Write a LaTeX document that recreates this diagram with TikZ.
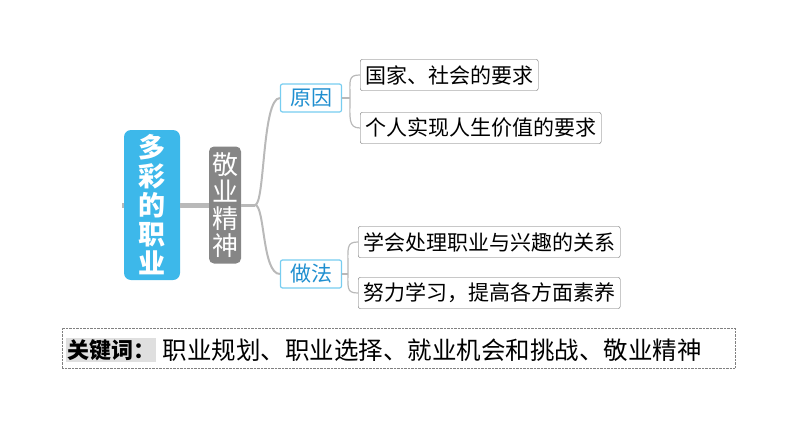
\documentclass[tikz,border=0pt]{standalone}
\usepackage{fontspec}
\setmainfont{Noto Sans CJK SC}
\definecolor{skyb}{HTML}{3DB8EA}
\definecolor{lblue}{HTML}{1F8FD0}
\begin{document}
\begin{tikzpicture}[x=1pt,y=-1pt,
  conn/.style={draw=gray!55,line width=2pt},
  leaf/.style={draw=gray!80!black,rounded corners=2pt,fill=white,anchor=west,minimum height=31pt,inner xsep=5pt,inner ysep=1pt,font=\fontsize{21}{22}\selectfont},
  mid/.style={draw=skyb!70,line width=1.2pt,rounded corners=2pt,fill=white,text=lblue,minimum width=61pt,minimum height=28pt,inner sep=1pt,font=\fontsize{21}{22}\selectfont}]
\useasboundingbox (0,0) rectangle (794,447);
\coordinate (st) at (122,205);
\node[fill=skyb,rounded corners=7pt,text=white,minimum width=56pt,minimum height=150pt,align=center,font=\bfseries\fontsize{27}{29}\selectfont] (root) at (152,205) {多\\彩\\的\\职\\业};
\node[fill=gray!95,rounded corners=5pt,text=white,minimum width=32pt,minimum height=117pt,inner xsep=1pt,align=center,font=\fontsize{26}{27}\selectfont] (jy) at (225,205) {敬\\业\\精\\神};
\node[mid] (yy) at (311,98) {原因};
\node[mid] (zf) at (311,274) {做法};
\node[leaf] (a1) at (360,75) {国家、社会的要求};
\node[leaf] (a2) at (360,128) {个人实现人生价值的要求};
\node[leaf] (b1) at (358,242) {学会处理职业与兴趣的关系};
\node[leaf] (b2) at (358,293) {努力学习，提高各方面素养};
\draw[conn,line width=5pt] (st) -- (root.west);
\draw[conn,line width=5pt] (root.east) -- (jy.west);
\draw[conn,line width=3pt] (jy.east) -- (255,205);
\draw[conn] (255,205) .. controls (265,205) and (262,98) .. (yy.west);
\draw[conn] (255,205) .. controls (265,205) and (262,274) .. (zf.west);
\draw[conn,line width=1.2pt] (yy.east) -- (350,98);
\draw[conn,line width=1.2pt] (a1.west) .. controls (348,75) and (350,80) .. (350,98) .. controls (350,118) and (348,128) .. (a2.west);
\draw[conn,line width=1.2pt] (zf.east) -- (348,274);
\draw[conn,line width=1.2pt] (b1.west) .. controls (346,242) and (348,248) .. (348,268) .. controls (348,288) and (346,293) .. (b2.west);
\node[draw=gray,densely dotted,minimum width=673pt,minimum height=40pt] (kw) at (398.5,348) {};
\node[anchor=west,fill=gray!25,inner sep=1pt,font=\bfseries\fontsize{22}{24}\selectfont] (k1) at (66,350) {关键词：};
\node[anchor=west,inner sep=0pt,font=\fontsize{24.5}{26}\selectfont] (k2) at ([xshift=6pt]k1.east) {职业规划、职业选择、就业机会和挑战、敬业精神};
\end{tikzpicture}
\end{document}
